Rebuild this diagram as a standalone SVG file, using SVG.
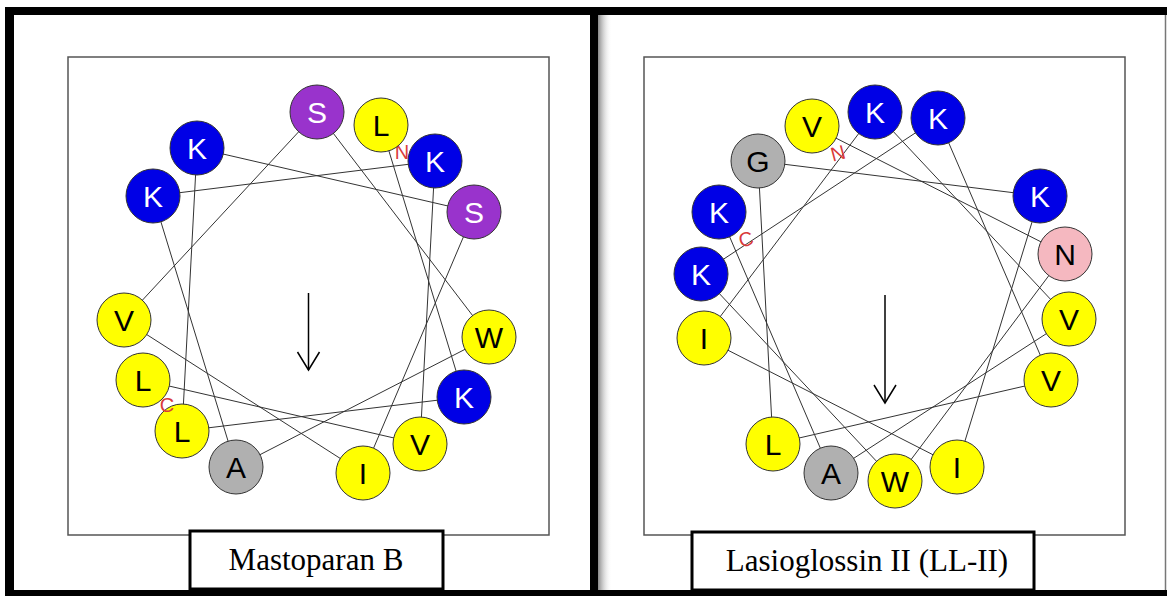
<svg xmlns="http://www.w3.org/2000/svg" width="1167" height="596" viewBox="0 0 1167 596">
<defs>
<linearGradient id="shadow" x1="0" y1="0" x2="1" y2="0">
<stop offset="0" stop-color="#888"/>
<stop offset="1" stop-color="#fff" stop-opacity="0"/>
</linearGradient>
<style>
.frame{fill:none;stroke:#555;stroke-width:1.5}
.lbl{fill:#fff;stroke:#000;stroke-width:3}
.lbltxt{font-family:"Liberation Serif",serif;font-size:31px;fill:#000;text-anchor:middle}
.res circle{stroke:#333;stroke-width:1}
.res text{font-family:"Liberation Sans",Arial,sans-serif;font-size:30px;text-anchor:middle}
.blue circle{fill:#0000e6}
.purple circle{fill:#9933cc}
.yellow circle{fill:#ffff00}
.grey circle{fill:#b0b0b0}
.pink circle{fill:#f5b8c0}
.blue text,.purple text{fill:#fff}
.yellow text,.grey text,.pink text{fill:#000}
.conn line{stroke:#333;stroke-width:1}
.term{font-family:"Liberation Sans",Arial,sans-serif;font-size:20px;fill:#d93a3a;text-anchor:middle}
.arrow{stroke:#000;stroke-width:1.5;fill:none}
</style>
</defs>
<rect width="1167" height="596" fill="#fff"/>
<!-- outer frame -->
<g id="outer-frame">
<rect x="598" y="15" width="14" height="575" fill="url(#shadow)"/>
<rect x="5" y="7" width="1162" height="8" fill="#000"/>
<rect x="5" y="7" width="9" height="589" fill="#000"/>
<rect x="5" y="590" width="1162" height="6" fill="#000"/>
<rect x="590" y="7" width="8" height="589" fill="#000"/>
<line x1="1165.5" y1="15" x2="1165.5" y2="590" stroke="#777" stroke-width="1.5"/>
</g>
<!-- Left panel: Mastoparan B -->
<g id="panel-left">
<rect class="frame" x="68" y="57" width="481" height="478"/>
<g id="connectors-left" class="conn">
<line x1="381" y1="125" x2="464" y2="397"/>
<line x1="464" y1="397" x2="182" y2="431"/>
<line x1="182" y1="431" x2="197" y2="148"/>
<line x1="197" y1="148" x2="474" y2="212"/>
<line x1="474" y1="212" x2="363" y2="473"/>
<line x1="363" y1="473" x2="124" y2="320"/>
<line x1="124" y1="320" x2="317" y2="112"/>
<line x1="317" y1="112" x2="489" y2="337"/>
<line x1="489" y1="337" x2="236" y2="467"/>
<line x1="236" y1="467" x2="153" y2="196"/>
<line x1="153" y1="196" x2="435" y2="161"/>
<line x1="435" y1="161" x2="420" y2="444"/>
<line x1="420" y1="444" x2="143" y2="380"/>
</g>
<text class="term" x="402" y="159" font-size="16">N</text>
<g id="L-L1" class="res yellow"><circle cx="381" cy="125" r="27"/><text x="381" y="136">L</text></g>
<g id="L-K2" class="res blue"><circle cx="464" cy="397" r="27"/><text x="464" y="408">K</text></g>
<g id="L-L3" class="res yellow"><circle cx="182" cy="431" r="27"/><text x="182" y="442">L</text></g>
<g id="L-K4" class="res blue"><circle cx="197" cy="148" r="27"/><text x="197" y="159">K</text></g>
<g id="L-S5" class="res purple"><circle cx="474" cy="212" r="27"/><text x="474" y="223">S</text></g>
<g id="L-I6" class="res yellow"><circle cx="363" cy="473" r="27"/><text x="363" y="484">I</text></g>
<g id="L-V7" class="res yellow"><circle cx="124" cy="320" r="27"/><text x="124" y="331">V</text></g>
<g id="L-S8" class="res purple"><circle cx="317" cy="112" r="27"/><text x="317" y="123">S</text></g>
<g id="L-W9" class="res yellow"><circle cx="489" cy="337" r="27"/><text x="489" y="348">W</text></g>
<g id="L-A10" class="res grey"><circle cx="236" cy="467" r="27"/><text x="236" y="478">A</text></g>
<g id="L-K11" class="res blue"><circle cx="153" cy="196" r="27"/><text x="153" y="207">K</text></g>
<g id="L-K12" class="res blue"><circle cx="435" cy="161" r="27"/><text x="435" y="172">K</text></g>
<g id="L-V13" class="res yellow"><circle cx="420" cy="444" r="27"/><text x="420" y="455">V</text></g>
<g id="L-L14" class="res yellow"><circle cx="143" cy="380" r="27"/><text x="143" y="391">L</text></g>
<text class="term" x="167" y="412">C</text>
<g id="arrow-left" class="arrow"><line x1="308.5" y1="293" x2="308.5" y2="370"/><polyline points="297.5,352 308.5,370 319.5,352"/></g>
<g id="label-left"><rect class="lbl" x="190" y="531" width="253" height="58"/><text class="lbltxt" x="316" y="570">Mastoparan B</text></g>
</g>
<!-- Right panel: Lasioglossin II -->
<g id="panel-right">
<rect class="frame" x="644" y="57" width="481" height="478"/>
<g id="connectors-right" class="conn">
<line x1="812" y1="126" x2="1065" y2="254"/>
<line x1="1065" y1="254" x2="895" y2="481"/>
<line x1="895" y1="481" x2="701" y2="274"/>
<line x1="701" y1="274" x2="938" y2="118"/>
<line x1="938" y1="118" x2="1051" y2="380"/>
<line x1="1051" y1="380" x2="773" y2="444"/>
<line x1="773" y1="444" x2="758" y2="161"/>
<line x1="758" y1="161" x2="1040" y2="196"/>
<line x1="1040" y1="196" x2="957" y2="467"/>
<line x1="957" y1="467" x2="704" y2="338"/>
<line x1="704" y1="338" x2="875" y2="112"/>
<line x1="875" y1="112" x2="1069" y2="319"/>
<line x1="1069" y1="319" x2="831" y2="473"/>
<line x1="831" y1="473" x2="719" y2="212"/>
</g>
<g id="R-V1" class="res yellow"><circle cx="812" cy="126" r="27"/><text x="812" y="137">V</text></g>
<g id="R-N2" class="res pink"><circle cx="1065" cy="254" r="27"/><text x="1065" y="265">N</text></g>
<g id="R-W3" class="res yellow"><circle cx="895" cy="481" r="27"/><text x="895" y="492">W</text></g>
<g id="R-K4" class="res blue"><circle cx="701" cy="274" r="27"/><text x="701" y="285">K</text></g>
<g id="R-K5" class="res blue"><circle cx="938" cy="118" r="27"/><text x="938" y="129">K</text></g>
<g id="R-V6" class="res yellow"><circle cx="1051" cy="380" r="27"/><text x="1051" y="391">V</text></g>
<g id="R-L7" class="res yellow"><circle cx="773" cy="444" r="27"/><text x="773" y="455">L</text></g>
<g id="R-G8" class="res grey"><circle cx="758" cy="161" r="27"/><text x="758" y="172">G</text></g>
<g id="R-K9" class="res blue"><circle cx="1040" cy="196" r="27"/><text x="1040" y="207">K</text></g>
<g id="R-I10" class="res yellow"><circle cx="957" cy="467" r="27"/><text x="957" y="478">I</text></g>
<g id="R-I11" class="res yellow"><circle cx="704" cy="338" r="27"/><text x="704" y="349">I</text></g>
<g id="R-K12" class="res blue"><circle cx="875" cy="112" r="27"/><text x="875" y="123">K</text></g>
<g id="R-V13" class="res yellow"><circle cx="1069" cy="319" r="27"/><text x="1069" y="330">V</text></g>
<g id="R-A14" class="res grey"><circle cx="831" cy="473" r="27"/><text x="831" y="484">A</text></g>
<g id="R-K15" class="res blue"><circle cx="719" cy="212" r="27"/><text x="719" y="223">K</text></g>
<text class="term" x="838" y="160" transform="rotate(-15 838 153)">N</text>
<text class="term" x="746" y="246" transform="rotate(-15 746 239)">C</text>
<g id="arrow-right" class="arrow"><line x1="885" y1="295" x2="885" y2="403"/><polyline points="874,385 885,403 896,385"/></g>
<g id="label-right"><rect class="lbl" x="692" y="532" width="342" height="58"/><text class="lbltxt" x="867" y="571">Lasioglossin II (LL-II)</text></g>
</g>
</svg>
